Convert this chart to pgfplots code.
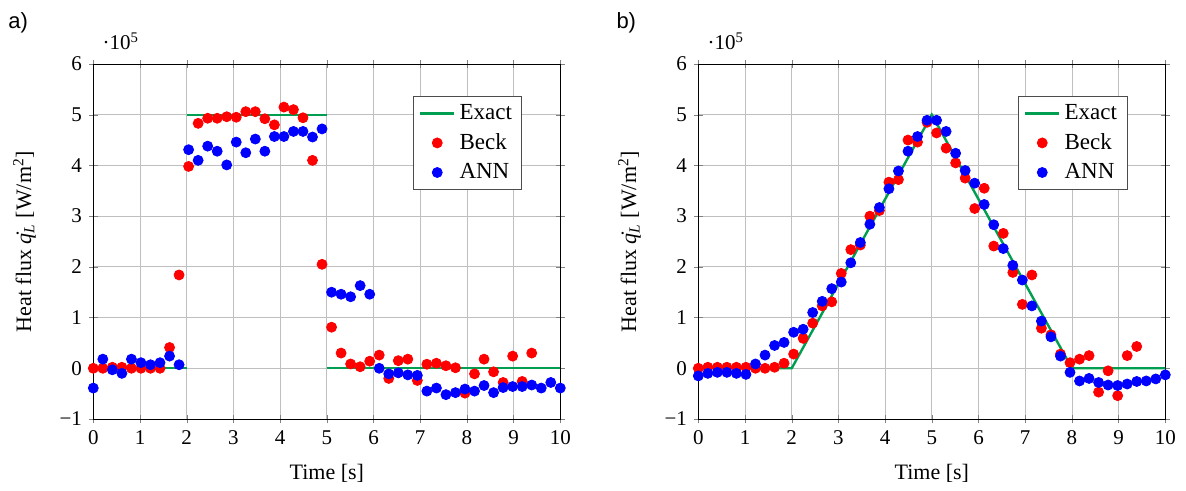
\documentclass[border=0pt]{standalone}
\usepackage{pgfplots}
\pgfplotsset{compat=1.18}
\usepackage{pgfplotstable}
\usepackage{fontspec}
\setmainfont{Liberation Serif}
\newfontfamily\labelfont{Liberation Sans}
\definecolor{exactgreen}{RGB}{0,158,80}

\pgfplotstableread{
t beck ann
0.0000 0 -0.39
0.2041 0 0.18
0.4082 0.02 -0.03
0.6122 0.02 -0.10
0.8163 0 0.18
1.0204 0 0.11
1.2245 0 0.07
1.4286 0 0.11
1.6327 0.41 0.24
1.8367 1.84 0.07
2.0408 3.98 4.31
2.2449 4.83 4.10
2.4490 4.93 4.38
2.6531 4.93 4.28
2.8571 4.96 4.01
3.0612 4.95 4.46
3.2653 5.06 4.25
3.4694 5.06 4.52
3.6735 4.92 4.28
3.8776 4.80 4.57
4.0816 5.15 4.57
4.2857 5.10 4.67
4.4898 4.94 4.67
4.6939 4.10 4.56
4.8980 2.05 4.72
5.1020 0.81 1.50
5.3061 0.30 1.46
5.5102 0.085 1.41
5.7143 0.03 1.63
5.9184 0.14 1.46
6.1224 0.26 0.00
6.3265 -0.20 -0.11
6.5306 0.15 -0.09
6.7347 0.18 -0.13
6.9388 -0.24 -0.14
7.1429 0.08 -0.45
7.3469 0.10 -0.39
7.5510 0.05 -0.52
7.7551 0.01 -0.48
7.9592 -0.49 -0.41
8.1633 -0.11 -0.45
8.3673 0.18 -0.34
8.5714 -0.07 -0.48
8.7755 -0.28 -0.38
8.9796 0.24 -0.36
9.1837 -0.26 -0.36
9.3878 0.30 -0.33
9.5918 nan -0.39
9.7959 nan -0.28
10.000 nan -0.39
}\dataA

\pgfplotstableread{
t beck ann
0.0000 0 -0.15
0.2041 0.02 -0.10
0.4082 0.02 -0.08
0.6122 0.02 -0.08
0.8163 0.02 -0.10
1.0204 0.02 -0.12
1.2245 0 0.085
1.4286 0 0.26
1.6327 0.02 0.45
1.8367 0.10 0.51
2.0408 0.28 0.71
2.2449 0.59 0.77
2.4490 0.89 1.10
2.6531 1.23 1.32
2.8571 1.31 1.57
3.0612 1.87 1.70
3.2653 2.34 2.08
3.4694 2.43 2.48
3.6735 3.00 2.84
3.8776 3.11 3.17
4.0816 3.67 3.54
4.2857 3.72 3.89
4.4898 4.50 4.28
4.6939 4.46 4.57
4.8980 4.85 4.89
5.1020 4.64 4.89
5.3061 4.34 4.67
5.5102 4.05 4.24
5.7143 3.75 3.90
5.9184 3.15 3.65
6.1224 3.55 3.23
6.3265 2.41 2.83
6.5306 2.66 2.36
6.7347 1.89 2.03
6.9388 1.26 1.74
7.1429 1.84 1.23
7.3469 0.79 0.93
7.5510 0.66 0.62
7.7551 0.28 0.24
7.9592 0.11 -0.08
8.1633 0.18 -0.25
8.3673 0.25 -0.20
8.5714 -0.47 -0.28
8.7755 -0.05 -0.33
8.9796 -0.54 -0.34
9.1837 0.25 -0.31
9.3878 0.43 -0.26
9.5918 nan -0.25
9.7959 nan -0.21
10.000 nan -0.13
}\dataB

\pgfplotsset{
  myaxis/.style={
    scale only axis,
    width=233.5pt, height=177.5pt,
    xmin=0, xmax=10, ymin=-1, ymax=6,
    xtick={0,1,...,10}, ytick={-1,0,...,6},
    yticklabels={−1,0,1,2,3,4,5,6},
    /pgf/number format/assume math mode=true,
    tick label style={font=\fontsize{10.5}{12}\selectfont},
    label style={font=\fontsize{11}{13}\selectfont},
    grid=major,
    tick align=center,
    xlabel={Time [s]},
    ylabel={Heat flux \.{\textit{q}}\textsubscript{\textit{L}} [W/m\textsuperscript{2}]},
    xlabel shift=3pt,
    ylabel shift=5pt,
    legend style={at={(0.9186,0.9099)}, anchor=north east, draw=black!70, font=\fontsize{11.5}{13.5}\selectfont, row sep=1.5pt},
    legend cell align=left,
  },
  exactstyle/.style={exactgreen, line width=1.2pt, unbounded coords=jump},
  beckstyle/.style={only marks, mark=*, mark size=2.5pt, color=red},
  annstyle/.style={only marks, mark=*, mark size=2.5pt, color=blue},
}

\begin{document}
\begin{tikzpicture}
\path[use as bounding box] (-46.65pt,-36pt) rectangle (546.35pt,209.5pt);
\node[anchor=north west, inner sep=0pt, font=\labelfont\fontsize{11}{13}\selectfont] at (-42.65pt,203.5pt) {a)};
\node[anchor=north west, inner sep=0pt, font=\labelfont\fontsize{11}{13}\selectfont] at (261.4pt,203.5pt) {b)};
\begin{axis}[myaxis, name=A, at={(0pt,0pt)}, anchor=south west]
\addplot[exactstyle] coordinates {(0,0) (2,0) (2,nan) (2,5) (5,5) (5,nan) (5,0) (10,0)};
\addlegendentry{Exact}
\addplot[beckstyle] table[x=t, y=beck] {\dataA};
\addlegendentry{Beck}
\addplot[annstyle] table[x=t, y=ann] {\dataA};
\addlegendentry{ANN}
\end{axis}
\begin{axis}[myaxis, name=B, at={(302.5pt,0pt)}, anchor=south west]
\addplot[exactstyle] coordinates {(0,0) (2,0) (5,5) (8,0) (10,0)};
\addlegendentry{Exact}
\addplot[beckstyle] table[x=t, y=beck] {\dataB};
\addlegendentry{Beck}
\addplot[annstyle] table[x=t, y=ann] {\dataB};
\addlegendentry{ANN}
\end{axis}
\node[anchor=base west, inner sep=0pt, font=\fontsize{10.5}{12}\selectfont] at ([xshift=4.5pt,yshift=7pt]A.north west) {·10\textsuperscript{5}};
\node[anchor=base west, inner sep=0pt, font=\fontsize{10.5}{12}\selectfont] at ([xshift=4.5pt,yshift=7pt]B.north west) {·10\textsuperscript{5}};
\end{tikzpicture}
\end{document}
